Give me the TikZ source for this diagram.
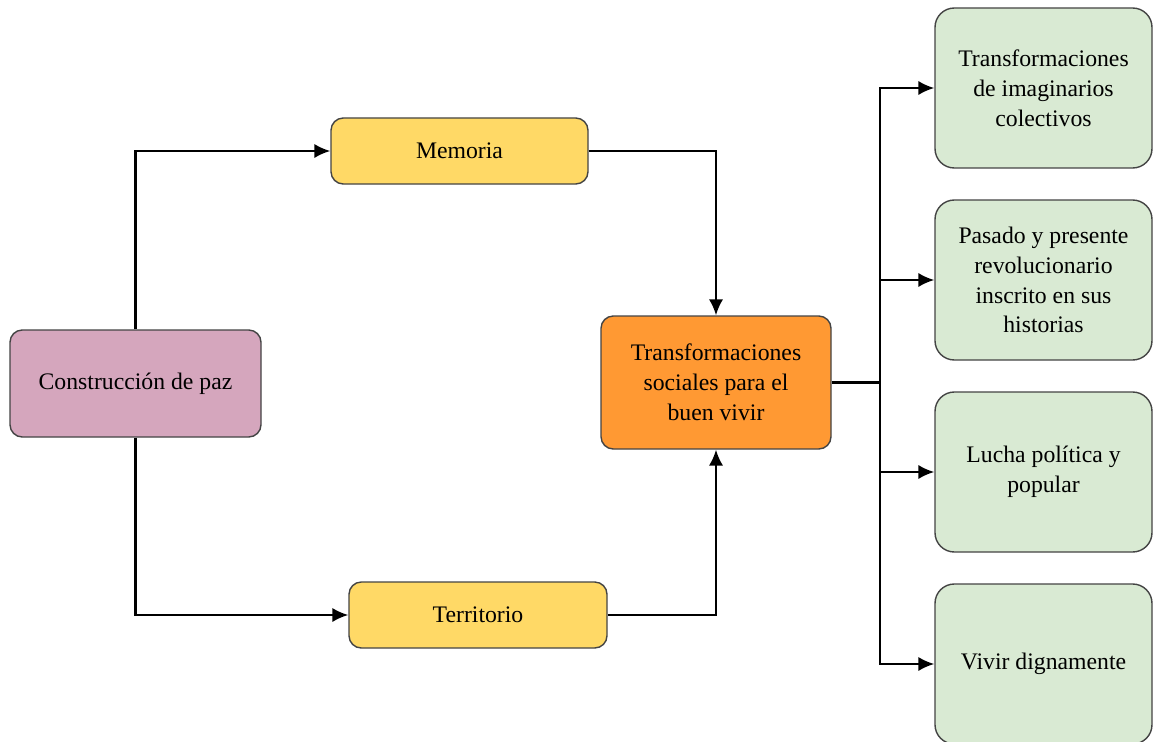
\documentclass[tikz,border=0pt]{standalone}
\usepackage{fontspec}
\setmainfont{Liberation Serif}
\usetikzlibrary{arrows.meta}

\definecolor{pazpink}{HTML}{D5A6BD}
\definecolor{memyellow}{HTML}{FFD966}
\definecolor{vivirorange}{HTML}{FF9933}
\definecolor{boxgreen}{HTML}{D9EAD3}
\definecolor{edgegray}{HTML}{444444}

\tikzset{
    box/.style={draw=edgegray, line width=0.8pt, rounded corners=7pt, align=center,
        font=\fontsize{13.5}{17}\selectfont, inner sep=2pt},
    greenbox/.style={box, fill=boxgreen, rounded corners=11pt,
        minimum width=4.34cm, minimum height=3.2cm},
    arr/.style={-{Latex[length=9pt,width=8pt]}, line width=1.2pt}
}

\begin{document}
\begin{tikzpicture}
    \useasboundingbox (0,0) rectangle (23.06,-14.84);
    \clip (0,0) rectangle (23.06,-14.84);

    % left side
    \node[box, fill=pazpink, minimum width=5.02cm, minimum height=2.14cm] (paz) at (2.71,-7.67) {Construcción de paz};
    \node[box, fill=memyellow, minimum width=5.14cm, minimum height=1.32cm] (memoria) at (9.19,-3.02) {Memoria};
    \node[box, fill=memyellow, minimum width=5.16cm, minimum height=1.32cm] (territorio) at (9.56,-12.30) {Territorio};
    \node[box, fill=vivirorange, minimum width=4.6cm, minimum height=2.66cm] (vivir) at (14.32,-7.65)
        {Transformaciones\\sociales para el\\buen vivir};

    % right side
    \node[greenbox] (imaginarios) at (20.87,-1.76) {Transformaciones\\de imaginarios\\colectivos};
    \node[greenbox] (pasado) at (20.87,-5.6) {Pasado y presente\\revolucionario\\inscrito en sus\\historias};
    \node[greenbox] (lucha) at (20.87,-9.44) {Lucha política y\\popular};
    \node[greenbox] (dignamente) at (20.87,-13.28) {Vivir dignamente};

    \coordinate (bus) at (17.6,-7.65);

    \draw[arr] (paz.north) |- (memoria.west);
    \draw[arr] (paz.south) |- (territorio.west);
    \draw[arr] (memoria.east) -| (vivir.north);
    \draw[arr] (territorio.east) -| (vivir.south);

    \draw[line width=2pt] (vivir.east) -- (bus);
    \draw[arr] (bus) |- (imaginarios.west);
    \draw[arr] (bus) |- (pasado.west);
    \draw[arr] (bus) |- (lucha.west);
    \draw[arr] (bus) |- (dignamente.west);
\end{tikzpicture}
\end{document}
